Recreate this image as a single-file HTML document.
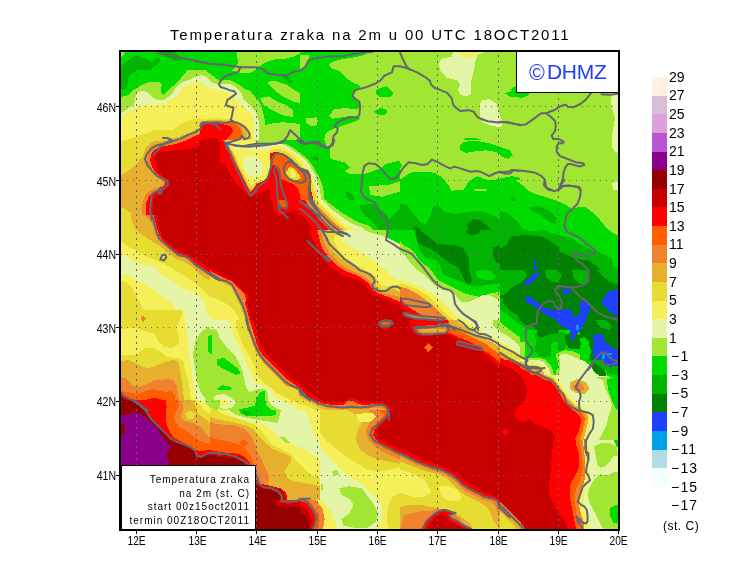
<!DOCTYPE html>
<html><head><meta charset="utf-8"><title>Temperatura zraka na 2m</title>
<style>
html,body{margin:0;padding:0;background:#fff;}
body{width:740px;height:582px;position:relative;overflow:hidden;font-family:"Liberation Sans",sans-serif;color:#000;}
.t{position:absolute;white-space:nowrap;line-height:1;}
svg{position:absolute;left:0;top:0;}
</style></head><body>

<svg width="740" height="582" viewBox="0 0 740 582" shape-rendering="crispEdges">
<defs>
<clipPath id="c0"><rect x="120" y="50" width="125" height="120"/></clipPath>
<clipPath id="c1"><rect x="120" y="120" width="100" height="100"/></clipPath>
<clipPath id="c2"><rect x="200" y="50" width="100" height="100"/></clipPath>
<clipPath id="c3"><rect x="300" y="50" width="100" height="100"/></clipPath>
<clipPath id="c4"><rect x="400" y="50" width="120" height="100"/></clipPath>
<clipPath id="c5"><rect x="500" y="90" width="120" height="100"/></clipPath>
<clipPath id="c6"><rect x="220" y="140" width="100" height="100"/></clipPath>
<clipPath id="c7"><rect x="300" y="140" width="100" height="100"/></clipPath>
<clipPath id="c8"><rect x="400" y="140" width="120" height="100"/></clipPath>
<clipPath id="c9"><rect x="500" y="180" width="120" height="100"/></clipPath>
<clipPath id="c10"><rect x="120" y="215" width="100" height="100"/></clipPath>
<clipPath id="c11"><rect x="210" y="230" width="100" height="100"/></clipPath>
<clipPath id="c12"><rect x="300" y="230" width="100" height="100"/></clipPath>
<clipPath id="c13"><rect x="400" y="230" width="100" height="100"/></clipPath>
<clipPath id="c14"><rect x="500" y="270" width="120" height="100"/></clipPath>
<clipPath id="c15"><rect x="120" y="310" width="100" height="100"/></clipPath>
<clipPath id="c16"><rect x="210" y="320" width="100" height="100"/></clipPath>
<clipPath id="c17"><rect x="300" y="320" width="100" height="100"/></clipPath>
<clipPath id="c18"><rect x="400" y="320" width="100" height="100"/></clipPath>
<clipPath id="c19"><rect x="500" y="360" width="120" height="100"/></clipPath>
<clipPath id="c20"><rect x="120" y="400" width="100" height="70"/></clipPath>
<clipPath id="c21"><rect x="210" y="410" width="100" height="120"/></clipPath>
<clipPath id="c22"><rect x="300" y="410" width="110" height="120"/></clipPath>
<clipPath id="c23"><rect x="400" y="410" width="110" height="120"/></clipPath>
<clipPath id="c24"><rect x="500" y="440" width="120" height="90"/></clipPath>
<clipPath id="c25"><rect x="120" y="70" width="80" height="60"/></clipPath>
<clipPath id="c26"><rect x="270" y="140" width="60" height="60"/></clipPath>
<clipPath id="c27"><rect x="210" y="410" width="110" height="90"/></clipPath>
<clipPath id="c28"><rect x="520" y="330" width="60" height="45"/></clipPath>
<clipPath id="map"><rect x="121" y="52" width="497" height="477"/></clipPath>
</defs>
<g clip-path="url(#map)">
<rect x="121" y="52" width="497" height="477" fill="#a0e632"/>
<g clip-path="url(#c0)"><g transform="translate(120,50) scale(0.20627,0.20619)">
<rect x="-5" y="-5" width="616" height="592" fill="#f5f05a"/>
<polygon points="0,0 606,0 606,200 560,195 520,185 490,175 460,160 430,145 400,135 370,145 340,155 310,172 280,192 245,220 210,240 175,222 140,205 110,200 78,218 72,265 20,305 0,325" fill="#e5f5a8"/>
<polygon points="0,0 606,0 606,170 570,170 530,165 500,160 480,155 460,140 440,125 410,118 380,125 340,135 300,150 270,170 240,195 215,230 200,230 185,210 160,195 130,190 100,192 70,205 60,240 40,270 10,300 0,305" fill="#a0e632"/>
<polygon points="0,0 606,0 606,40 575,55 545,90 530,105 500,140 480,148 460,130 440,110 410,100 380,103 340,112 300,128 270,150 240,185 215,212 205,212 200,175 192,155 165,148 125,160 85,180 60,205 30,225 0,232" fill="#00dc00"/>
<polygon points="0,0 35,0 0,45" fill="#a0e632"/>
<polygon points="0,95 10,75 30,55 55,40 80,25 105,35 130,45 150,60 165,45 185,35 200,50 185,65 160,85 150,100 110,95 70,105 45,125 40,185 20,195 0,190" fill="#00b400"/>
<polygon points="190,10 260,10 290,30 300,50 270,55 240,40 210,30" fill="#00b400"/>
<polygon points="0,430 40,418 100,400 150,385 200,373 260,358 310,343 345,335 385,328 420,330 460,325 500,330 540,340 606,345 606,582 0,582" fill="#e6dc32"/>
<polygon points="0,582 0,560 60,520 110,470 140,445 170,440 200,425 240,410 290,392 340,382 380,370 420,345 460,335 500,340 530,360 560,380 606,380 606,582" fill="#e6af2d"/>
<polygon points="120,582 130,520 145,455 185,441 245,421 345,396 390,371 435,361 485,366 525,361 565,381 585,421 606,430 606,582" fill="#f0822d"/>
<polygon points="150,582 140,540 150,505 165,491 205,476 245,456 295,431 345,411 395,386 435,376 475,386 505,401 525,420 530,460 535,500 540,540 550,582" fill="#ff0000"/>
<polygon points="165,582 160,550 175,521 195,491 245,481 295,461 345,446 395,431 435,421 465,431 485,461 495,511 505,551 515,582" fill="#c80000"/>
<polygon points="525,440 530,491 545,541 560,582 606,582 606,440 580,445 555,455" fill="#f5f05a"/>
</g></g>
<g clip-path="url(#c1)"><g transform="translate(120,120) scale(0.17182,0.17182)">
<rect x="-5" y="-5" width="592" height="592" fill="#e6dc32"/>
<polygon points="0,0 420,0 350,15 300,30 250,45 200,60 150,80 100,95 40,115 0,125" fill="#f5f05a"/>
<polygon points="582,20 480,30 440,60 400,75 350,95 300,110 250,120 200,125 170,140 150,160 140,190 130,215 110,240 80,270 40,300 0,325 0,500 30,520 60,540 100,582 582,582" fill="#e6af2d"/>
<polygon points="582,30 520,30 490,50 440,80 400,95 350,120 300,130 250,140 210,150 175,175 160,210 160,250 180,290 200,320 230,345 250,365 240,385 200,400 160,420 140,450 130,490 125,530 130,582 582,582" fill="#f0822d"/>
<polygon points="582,40 540,45 500,65 470,80 420,100 370,125 320,140 270,150 230,160 200,175 180,200 175,240 190,280 210,310 240,335 265,355 260,380 230,400 200,420 170,440 150,490 150,530 160,582 582,582" fill="#ff0000"/>
<polygon points="582,100 540,105 500,130 460,150 400,170 340,175 290,180 240,185 210,195 200,220 210,260 220,300 250,330 280,345 285,370 270,400 240,420 210,440 195,470 190,510 190,582 582,582" fill="#c80000"/>
</g></g>
<g clip-path="url(#c2)"><g transform="translate(200,50) scale(0.17182,0.17182)">
<rect x="-5" y="-5" width="592" height="592" fill="#00dc00"/>
<polygon points="216,10 582,10 582,20 540,40 500,50 440,55 400,65 360,85 340,100 310,125 291,134 240,134 216,127 184,123 208,95 224,74 216,40" fill="#a0e632"/>
<polygon points="0,114 32,118 60,139 92,163 116,182 120,178 172,174 208,190 240,210 260,226 291,238 320,270 345,300 360,330 375,400 380,440 400,430 480,420 582,430 582,582 0,582" fill="#a0e632"/>
<polygon points="390,185 440,180 500,200 560,240 582,250 582,310 540,300 480,270 440,240 410,210" fill="#a0e632"/>
<polygon points="350,280 400,270 450,300 500,320 540,350 540,390 480,380 420,350 370,320" fill="#a0e632"/>
<polygon points="480,150 510,150 540,180 530,195 500,180" fill="#00b400"/>
<polygon points="0,146 32,150 56,178 80,194 108,198 120,201 175,198 212,218 240,250 255,290 290,320 320,350 340,400 345,470 340,540 335,582 0,582" fill="#e5f5a8"/>
<polygon points="0,186 32,210 60,226 112,234 160,246 192,266 208,291 235,310 265,335 295,365 310,400 315,470 310,540 305,582 0,582" fill="#f5f05a"/>
<polygon points="0,405 60,398 120,398 180,402 230,418 270,440 295,480 305,520 290,560 280,582 0,582" fill="#e6dc32"/>
<polygon points="0,418 50,408 110,408 170,412 210,422 245,440 270,475 275,510 255,530 230,560 200,582 0,582" fill="#e6af2d"/>
<polygon points="0,420 40,412 100,412 150,425 180,410 220,430 245,460 250,490 240,515 220,525 190,540 160,550 150,582 0,582" fill="#f0822d"/>
<polygon points="0,425 40,416 100,418 150,430 185,418 220,440 240,470 240,505 215,525 180,545 150,582 0,582" fill="#ff5f00"/>
<polygon points="0,430 47,420 98,425 149,435 179,445 192,474 175,500 159,514 149,565 145,582 0,582" fill="#ff0000"/>
<polygon points="0,530 16,523 60,512 98,513 115,540 120,582 0,582" fill="#c80000"/>
</g></g>
<g clip-path="url(#c3)"><g transform="translate(300,50) scale(0.17182,0.17182)">
<rect x="-5" y="-5" width="592" height="592" fill="#a0e632"/>
<polygon points="0,10 385,10 385,25 350,35 300,45 240,55 200,65 168,82 180,105 235,125 265,160 300,185 345,205 355,225 325,240 310,262 322,290 350,312 350,330 330,345 260,338 200,345 170,380 190,400 260,390 300,382 340,382 350,400 310,420 250,440 210,452 170,470 145,495 140,530 152,560 175,575 205,570 230,560 240,582 0,582" fill="#00dc00"/>
<polygon points="0,30 50,30 55,60 40,90 0,120" fill="#a0e632"/>
<polygon points="35,398 100,392 105,432 70,445 38,425" fill="#a0e632"/>
<polygon points="440,232 500,210 545,250 530,272 460,272 440,252" fill="#00dc00"/>
<polygon points="430,360 470,335 510,350 500,375 460,380" fill="#00dc00"/>
</g></g>
<g clip-path="url(#c4)"><g transform="translate(400,50) scale(0.17192,0.17182)">
<rect x="-5" y="-5" width="708" height="592" fill="#a0e632"/>
<polygon points="310,10 500,10 450,30 440,60 430,120 415,180 410,260 380,270 350,260 335,230 350,200 330,175 270,160 235,120 225,80 240,50 300,40" fill="#e5f5a8"/>
<polygon points="330,10 460,10 440,38 380,45 340,30" fill="#f5f05a"/>
<polygon points="470,295 520,285 560,310 575,360 590,400 610,435 580,450 530,440 480,420 465,390 465,340" fill="#e5f5a8"/>
<polygon points="345,582 355,540 380,515 420,510 470,520 520,540 580,560 620,582" fill="#00dc00"/>
<polygon points="610,260 640,230 680,205 698,200 698,270 650,268" fill="#00dc00"/>
</g></g>
<g clip-path="url(#c5)"><g transform="translate(500,90) scale(0.17192,0.17182)">
<rect x="-5" y="-5" width="708" height="592" fill="#a0e632"/>
<polygon points="30,20 80,0 160,0 170,30 130,45 60,40" fill="#00dc00"/>
<polygon points="0,330 40,335 70,370 60,400 20,410 0,405" fill="#00dc00"/>
<polygon points="0,540 60,505 100,515 120,560 140,582 0,582" fill="#00dc00"/>
<polygon points="700,30 650,30 645,70 655,120 670,160 660,220 650,280 650,330 670,360 700,370" fill="#e5f5a8"/>
<polygon points="700,530 660,540 650,582 700,582" fill="#e5f5a8"/>
<polygon points="0,150 20,190 0,220" fill="#e5f5a8"/>
</g></g>
<g clip-path="url(#c6)"><g transform="translate(220,140) scale(0.17182,0.17182)">
<rect x="-5" y="-5" width="592" height="592" fill="#ff0000"/>
<polygon points="0,130 30,140 60,200 100,260 140,300 175,335 215,315 260,295 290,290 300,340 310,400 330,440 360,440 400,420 430,400 450,420 470,460 500,500 530,540 545,582 0,582" fill="#c80000"/>
<polygon points="15,0 582,0 582,180 540,160 500,140 450,105 400,75 350,55 320,60 300,90 290,130 280,175 265,215 245,240 215,255 195,285 178,305 160,275 140,235 120,195 95,145 70,90 45,40" fill="#f0822d"/>
<polygon points="320,165 340,165 350,220 360,290 380,345 392,385 370,395 345,370 335,320 328,250 318,200" fill="#ff5f00"/>
<polygon points="582,200 540,200 520,240 510,280 490,300 470,320 480,350 520,380 560,410 582,420" fill="#f0822d"/>
<polygon points="380,130 420,120 460,150 490,190 500,240 460,250 420,235 390,210 370,170" fill="#ff5f00"/>
<polygon points="25,0 375,0 350,60 325,75 305,110 295,150 285,190 270,225 250,240 220,250 200,270 185,295 165,270 145,230 125,190 100,140 80,90 55,45" fill="#e6dc32"/>
<polygon points="400,140 440,150 470,180 480,220 460,235 430,225 400,200 390,170" fill="#e6dc32"/>
<polygon points="582,230 560,220 540,250 530,290 520,320 540,350 570,380 582,390" fill="#e6dc32"/>
<polygon points="40,0 365,0 330,70 310,105 300,145 290,180 275,210 255,230 225,240 200,250 180,265 160,240 140,200 120,160 100,115 80,70 60,40" fill="#f5f05a"/>
<polygon points="410,155 440,165 460,200 445,215 420,205 405,180" fill="#f5f05a"/>
<polygon points="582,250 565,250 555,280 550,320 560,350 582,365" fill="#f5f05a"/>
<polygon points="140,100 200,95 240,120 250,160 240,200 210,215 170,210 145,180 135,140" fill="#e5f5a8"/>
<polygon points="60,30 370,20 340,55 250,60 150,55 80,50" fill="#e5f5a8"/>
<polygon points="582,150 550,170 545,210 555,240 560,280 570,320 582,340" fill="#e5f5a8"/>
<polygon points="200,0 380,0 360,30 300,25 220,20" fill="#a0e632"/>
<polygon points="582,110 540,110 520,140 535,160 560,160 582,180" fill="#a0e632"/>
<polygon points="380,0 582,0 582,110 540,90 500,70 450,50 420,30 400,15" fill="#00dc00"/>
</g></g>
<g clip-path="url(#c7)"><g transform="translate(300,140) scale(0.17182,0.17182)">
<rect x="-5" y="-5" width="592" height="592" fill="#00dc00"/>
<polygon points="140,0 582,0 582,120 500,140 470,165 440,175 400,190 370,200 340,195 300,200 260,185 290,160 260,130 180,110 150,60" fill="#a0e632"/>
<polygon points="400,270 520,260 582,240 582,300 480,330 410,320" fill="#a0e632"/>
<polygon points="270,300 300,310 320,350 290,350 270,330" fill="#00b400"/>
<polygon points="350,380 420,370 460,400 500,430 520,460 560,420 582,400 582,582 510,582 460,520 420,470 380,440 350,400" fill="#00b400"/>
<polygon points="60,100 100,95 110,120 70,120" fill="#00b400"/>
<polygon points="0,0 0,60 70,75 110,120 135,190 140,260 135,320 160,360 200,390 240,420 290,450 340,480 400,500 440,530 470,560 480,582 0,582" fill="#a0e632"/>
<polygon points="0,0 0,70 60,85 100,130 120,190 125,260 120,320 140,360 180,400 220,430 260,460 310,490 360,510 400,540 430,582 0,582" fill="#e5f5a8"/>
<polygon points="0,0 0,80 50,95 90,140 110,200 110,260 105,320 120,360 160,400 200,440 240,475 280,500 330,520 360,550 380,582 0,582" fill="#f5f05a"/>
<polygon points="0,0 0,90 40,100 75,140 95,200 95,260 90,320 105,360 140,400 180,440 220,480 260,510 300,540 330,582 0,582" fill="#e6dc32"/>
<polygon points="0,0 0,100 30,110 60,150 80,200 80,260 75,320 90,370 130,410 170,450 210,490 250,520 270,550 280,582 0,582" fill="#f0822d"/>
<polygon points="0,260 20,300 30,350 60,400 100,450 140,490 180,530 210,560 230,582 0,582" fill="#ff0000"/>
<polygon points="0,430 40,470 80,520 110,560 120,582 0,582" fill="#c80000"/>
<polygon points="0,0 140,0 150,60 110,80 70,60 0,50" fill="#00dc00"/>
</g></g>
<g clip-path="url(#c8)"><g transform="translate(400,140) scale(0.17192,0.17182)">
<rect x="-5" y="-5" width="708" height="592" fill="#00dc00"/>
<polygon points="0,0 698,0 698,220 650,210 600,220 560,230 500,230 450,210 400,240 370,290 300,295 280,260 250,220 200,190 120,185 60,190 30,210 0,230" fill="#a0e632"/>
<polygon points="345,40 370,10 450,5 520,20 580,40 640,60 655,90 630,110 600,100 560,70 500,60 440,65 380,75 350,60" fill="#00dc00"/>
<polygon points="0,130 10,150 0,170" fill="#00dc00"/>
<polygon points="430,285 510,285 500,295 440,295" fill="#a0e632"/>
<polygon points="0,370 40,380 80,430 120,480 150,490 180,430 190,390 220,380 260,420 320,430 400,420 460,410 520,430 560,450 600,470 650,470 698,460 698,582 0,582" fill="#00b400"/>
<polygon points="640,340 680,325 698,340 698,360 660,360" fill="#00b400"/>
<polygon points="390,490 430,460 470,470 510,500 540,530 500,540 450,545 400,540" fill="#008200"/>
<polygon points="80,500 120,520 160,560 170,582 90,582 75,540" fill="#008200"/>
</g></g>
<g clip-path="url(#c9)"><g transform="translate(500,180) scale(0.17192,0.17182)">
<rect x="-5" y="-5" width="708" height="592" fill="#00dc00"/>
<polygon points="90,0 698,0 698,330 660,310 620,280 580,230 540,190 500,160 460,155 420,170 390,150 350,130 300,110 250,95 200,80 160,60 130,30" fill="#a0e632"/>
<polygon points="650,20 690,10 690,60 660,60" fill="#e5f5a8"/>
<polygon points="0,180 40,190 70,210 100,240 130,280 180,300 260,290 300,310 340,320 380,330 420,340 460,370 500,390 540,410 580,420 620,440 650,460 660,500 690,520 698,582 0,582" fill="#00b400"/>
<polygon points="160,160 220,150 290,180 330,220 320,260 280,240 230,200 180,180" fill="#00b400"/>
<polygon points="60,100 80,95 100,120 70,125" fill="#00b400"/>
<polygon points="60,330 150,320 250,330 300,360 340,390 350,420 400,440 450,460 520,470 560,500 600,540 620,582 0,582 0,400 40,380" fill="#008200"/>
<polygon points="195,465 210,465 205,500 230,530 200,560 175,582 160,582 195,540 200,500" fill="#2040ff"/>
</g></g>
<g clip-path="url(#c10)"><g transform="translate(120,215) scale(0.17182,0.17182)">
<rect x="-5" y="-5" width="592" height="592" fill="#e6dc32"/>
<polygon points="60,0 180,0 200,50 230,120 260,160 300,200 340,230 390,240 430,270 480,310 530,350 582,380 582,400 540,390 500,370 460,340 420,300 370,270 320,250 280,220 230,180 180,150 120,110 90,80 70,40" fill="#e6af2d"/>
<polygon points="0,150 40,180 80,200 150,240 200,260 250,280 300,310 350,340 400,370 450,410 500,450 540,490 582,520 582,582 0,582" fill="#f5f05a"/>
<polygon points="0,380 40,390 70,420 100,480 130,540 150,582 0,582" fill="#e6dc32"/>
<polygon points="0,230 40,240 80,270 140,290 200,300 230,340 280,370 320,390 350,420 400,440 440,460 480,490 500,520 490,550 470,582 340,582 320,540 290,500 240,470 200,440 160,410 120,390 80,370 40,350 0,345" fill="#e5f5a8"/>
<polygon points="140,0 582,0 582,390 550,375 520,355 490,335 460,315 430,295 400,265 370,248 340,240 310,220 280,195 250,170 225,145 210,115 195,70 175,30" fill="#f0822d"/>
<polygon points="195,0 582,0 582,370 550,350 520,335 490,315 460,295 430,275 400,250 370,235 340,225 310,205 280,180 250,150 230,120 215,80 205,40" fill="#ff0000"/>
<polygon points="215,0 582,0 582,345 550,330 520,310 490,290 460,270 430,250 400,235 370,220 340,210 310,185 280,160 255,135 240,110 225,70 215,30" fill="#c80000"/>
</g></g>
<g clip-path="url(#c11)"><g transform="translate(210,230) scale(0.17182,0.17182)">
<rect x="-5" y="-5" width="592" height="592" fill="#c80000"/>
<polygon points="0,225 20,235 60,260 110,280 150,310 190,350 230,380 215,420 230,480 240,530 245,582 0,582" fill="#ff0000"/>
<polygon points="0,240 40,260 80,280 120,295 160,330 200,370 210,400 205,430 220,480 230,530 235,582 0,582" fill="#f0822d"/>
<polygon points="0,260 30,280 70,300 110,310 140,340 160,380 180,420 195,460 205,500 215,540 220,582 0,582" fill="#e6af2d"/>
<polygon points="0,275 40,295 80,310 120,330 140,370 160,410 180,450 195,490 205,530 210,582 0,582" fill="#e6dc32"/>
<polygon points="0,390 40,400 80,420 110,440 140,470 160,500 180,540 190,582 0,582" fill="#f5f05a"/>
<polygon points="0,520 40,530 70,560 80,582 0,582" fill="#e5f5a8"/>
</g></g>
<g clip-path="url(#c12)"><g transform="translate(300,230) scale(0.17182,0.17182)">
<rect x="-5" y="-5" width="592" height="592" fill="#c80000"/>
<polygon points="50,0 582,0 582,440 540,420 500,400 460,390 420,370 380,320 340,290 300,280 260,270 230,250 200,230 170,210 130,170 100,110 80,60 60,30" fill="#ff0000"/>
<polygon points="100,0 582,0 582,420 540,400 500,385 460,370 430,350 400,310 360,280 320,260 280,245 250,230 220,210 190,180 160,150 130,110 115,60" fill="#f0822d"/>
<polygon points="120,0 582,0 582,390 540,380 500,370 460,360 435,340 420,310 390,280 350,260 310,240 270,220 230,195 200,165 170,130 145,80 130,40" fill="#e6af2d"/>
<polygon points="140,0 582,0 582,360 540,340 500,350 460,345 440,320 440,290 420,270 380,250 340,225 300,200 260,180 230,160 200,130 175,90 155,50" fill="#e6dc32"/>
<polygon points="200,30 280,20 330,40 380,60 430,80 480,100 530,120 582,130 582,320 540,320 500,330 470,320 455,300 440,270 410,250 370,230 330,210 290,180 250,150 220,110 200,70" fill="#f5f05a"/>
<polygon points="260,0 380,0 420,20 470,30 520,50 582,60 582,290 560,290 530,270 510,240 480,220 460,200 440,180 400,160 360,130 320,110 280,90 240,60" fill="#e5f5a8"/>
<polygon points="380,0 500,0 500,40 470,30 420,20" fill="#a0e632"/>
<polygon points="500,0 582,0 582,80 540,60 500,40" fill="#00dc00"/>
<polygon points="470,535 530,530 540,545 510,560 470,555" fill="#f0822d"/>
</g></g>
<g clip-path="url(#c13)"><g transform="translate(400,230) scale(0.17182,0.17182)">
<rect x="-5" y="-5" width="592" height="592" fill="#00b400"/>
<polygon points="0,0 80,0 100,60 110,110 150,160 200,170 230,200 250,260 300,280 350,300 400,320 450,330 500,320 582,310 582,582 0,582" fill="#00dc00"/>
<polygon points="90,0 110,0 140,20 180,50 220,80 270,85 320,90 360,100 390,140 400,180 400,220 410,260 420,300 400,320 380,300 360,260 340,220 300,200 260,170 220,140 180,110 130,90 100,70" fill="#008200"/>
<polygon points="380,0 470,0 460,20 420,30 390,20" fill="#008200"/>
<polygon points="540,100 582,90 582,200 560,190 540,150" fill="#008200"/>
<polygon points="440,240 480,230 530,240 560,270 540,290 490,290 450,280" fill="#00dc00"/>
<polygon points="0,60 20,90 60,110 90,140 110,170 140,200 170,220 200,260 220,290 260,310 300,330 340,350 380,370 420,380 470,390 520,370 582,360 582,582 0,582" fill="#a0e632"/>
<polygon points="0,130 30,150 60,190 100,230 140,260 170,290 200,320 240,340 280,350 310,360 330,390 360,420 400,420 440,400 480,380 520,380 560,400 582,410 582,582 0,582" fill="#e5f5a8"/>
<polygon points="0,290 40,300 80,320 120,330 160,350 200,380 230,400 260,430 290,460 320,490 350,510 380,530 400,560 410,582 0,582" fill="#f5f05a"/>
<polygon points="0,310 40,320 80,340 120,355 160,380 190,410 220,440 250,470 280,500 310,520 340,540 360,560 370,582 0,582" fill="#e6dc32"/>
<polygon points="0,330 40,340 100,370 140,400 180,430 210,460 240,490 270,510 300,540 330,560 340,582 0,582" fill="#f0822d"/>
<polygon points="0,390 20,400 30,430 50,450 100,480 140,500 200,520 240,540 270,560 280,582 0,582" fill="#ff0000"/>
<polygon points="0,450 30,470 60,500 100,520 130,540 150,560 160,582 0,582" fill="#c80000"/>
<polygon points="10,400 40,400 80,410 130,420 170,430 180,445 150,450 100,445 50,440 20,430 10,410" fill="#f0822d"/>
<polygon points="20,480 60,490 120,500 180,505 240,510 260,515 250,525 200,525 140,520 80,515 30,500 20,490" fill="#f0822d"/>
</g></g>
<g clip-path="url(#c14)"><g transform="translate(500,270) scale(0.17192,0.17182)">
<rect x="-5" y="-5" width="708" height="592" fill="#008200"/>
<polygon points="0,0 140,0 160,30 130,70 90,90 60,110 30,140 0,150" fill="#00b400"/>
<polygon points="260,0 330,0 360,30 340,70 300,70 270,40" fill="#00b400"/>
<polygon points="420,0 500,0 520,40 500,80 460,80 430,50" fill="#00b400"/>
<polygon points="560,0 698,0 698,90 640,70 600,40" fill="#00b400"/>
<polygon points="0,160 20,170 20,200 60,240 100,260 120,300 150,320 200,330 210,360 190,400 180,440 150,470 100,460 60,420 20,400 0,380" fill="#00b400"/>
<polygon points="560,290 610,290 650,320 640,350 600,340 570,320" fill="#00b400"/>
<polygon points="0,230 30,250 80,290 120,320 150,340 200,360 230,380 260,400 300,420 330,440 350,460 380,470 420,460 460,440 490,420 520,440 530,470 520,520 500,560 480,582 0,582" fill="#00dc00"/>
<polygon points="460,400 490,390 520,420 510,450 480,450" fill="#00dc00"/>
<polygon points="0,300 20,320 60,350 100,380 140,410 160,440 190,470 220,480 270,475 310,470 350,470 380,480 420,500 460,530 480,560 490,582 0,582" fill="#a0e632"/>
<polygon points="0,360 40,380 80,410 120,450 150,480 200,490 260,490 320,480 360,470 400,480 440,500 470,530 490,560 500,582 0,582" fill="#e5f5a8"/>
<polygon points="0,420 40,440 90,470 130,500 170,530 210,550 250,560 300,570 330,582 0,582" fill="#f5f05a"/>
<polygon points="0,450 40,470 80,490 120,510 150,535 180,560 220,575 240,582 0,582" fill="#e6dc32"/>
<polygon points="0,480 40,500 80,520 120,540 150,560 170,582 0,582" fill="#f0822d"/>
<polygon points="0,510 40,530 80,550 110,570 120,582 0,582" fill="#ff0000"/>
<polygon points="0,550 30,565 50,582 0,582" fill="#c80000"/>
<polygon points="130,80 170,50 200,20 230,10 220,40 190,70 160,90 140,90" fill="#2040ff"/>
<polygon points="150,150 180,160 220,190 260,220 300,230 330,230 370,230 400,225 420,240 430,280 460,260 470,230 460,200 470,180 500,180 530,200 520,240 500,290 480,330 460,360 440,390 430,420 415,415 420,380 400,350 370,330 340,310 320,290 290,270 260,260 240,240 210,220 180,200 150,185" fill="#2040ff"/>
<polygon points="360,110 400,110 420,120 400,140 370,145" fill="#2040ff"/>
<polygon points="640,120 698,115 698,280 660,260 620,230 590,200 600,160 620,140" fill="#2040ff"/>
<polygon points="540,380 580,370 600,380 610,420 640,440 670,460 698,470 698,560 650,560 610,540 580,540 550,520 540,480 545,430" fill="#2040ff"/>
<polygon points="440,320 455,315 460,350 450,360 440,350" fill="#00a0e6"/>
<polygon points="595,490 610,490 605,550 595,550" fill="#00a0e6"/>
<polygon points="620,485 650,485 650,495 620,495" fill="#00a0e6"/>
</g></g>
<g clip-path="url(#c15)"><g transform="translate(120,310) scale(0.17182,0.17182)">
<rect x="-5" y="-5" width="592" height="592" fill="#e6dc32"/>
<polygon points="0,110 90,105 200,140 225,185 260,215 300,222 340,200 345,150 325,100 345,70 360,30 360,0 582,0 582,582 420,582 410,500 400,420 380,360 370,300 340,280 310,280 270,270 230,240 190,220 150,220 120,240 100,260 0,260" fill="#f5f05a"/>
<polygon points="370,0 582,0 582,582 450,582 440,500 430,430 420,360 410,300 400,240 395,180 390,120 380,60" fill="#e5f5a8"/>
<polygon points="500,0 582,0 582,60 540,60" fill="#f5f05a"/>
<polygon points="440,180 470,130 510,100 550,100 582,110 582,582 540,582 500,520 470,480 450,420 440,360 430,300 425,250" fill="#a0e632"/>
<polygon points="510,150 530,150 530,260 510,240" fill="#00dc00"/>
<polygon points="560,270 582,260 582,330 560,310" fill="#00dc00"/>
<polygon points="0,300 50,290 90,310 130,330 170,340 220,320 270,300 310,290 340,300 350,350 360,420 370,500 380,582 0,582" fill="#e6af2d"/>
<polygon points="0,390 40,400 70,440 110,450 160,430 200,410 240,410 280,400 310,410 330,440 340,500 350,582 0,582" fill="#f0822d"/>
<polygon points="0,470 50,480 100,490 150,470 190,460 230,470 270,480 300,470 320,500 330,582 0,582" fill="#ff5f00"/>
<polygon points="0,480 40,510 80,520 120,530 160,520 200,510 240,520 270,540 280,582 0,582" fill="#ff0000"/>
<polygon points="0,490 30,510 60,530 100,550 140,570 150,582 0,582" fill="#c80000"/>
<polygon points="0,500 20,520 50,545 80,565 100,582 0,582" fill="#960000"/>
<polygon points="120,50 135,30 150,50 135,70" fill="#f0822d"/>
</g></g>
<g clip-path="url(#c16)"><g transform="translate(210,320) scale(0.17182,0.17182)">
<rect x="-5" y="-5" width="592" height="592" fill="#e6dc32"/>
<polygon points="220,0 582,0 582,480 550,460 520,440 510,410 480,395 440,380 410,350 380,320 350,290 320,260 290,220 265,180 245,130 230,80" fill="#f0822d"/>
<polygon points="230,0 582,0 582,440 550,420 530,400 500,380 470,360 440,340 410,310 380,280 350,250 320,220 290,180 270,130 255,80 240,30" fill="#ff0000"/>
<polygon points="250,0 582,0 582,410 550,390 520,370 490,350 460,330 430,300 400,270 370,240 340,210 310,170 290,130 275,80 260,30" fill="#c80000"/>
<polygon points="0,0 150,0 160,60 180,120 200,160 230,210 250,250 270,300 290,340 320,370 350,390 380,420 420,440 460,460 500,480 540,500 582,510 582,582 0,582" fill="#f5f05a"/>
<polygon points="0,0 110,0 120,50 140,100 170,150 190,200 210,250 230,300 250,340 270,370 300,380 340,390 360,420 380,450 420,470 460,490 500,510 540,540 582,550 582,582 0,582" fill="#e5f5a8"/>
<polygon points="0,60 20,50 40,60 60,110 90,150 120,180 150,210 170,250 190,300 200,350 210,390 230,420 260,410 290,400 320,400 340,430 340,470 360,500 400,520 440,540 470,560 500,582 0,582" fill="#a0e632"/>
<polygon points="30,440 80,430 120,450 150,480 130,510 80,520 40,500 20,470" fill="#e5f5a8"/>
<polygon points="60,465 100,470 110,490 80,500 55,485" fill="#f5f05a"/>
<polygon points="0,540 40,545 60,582 0,582" fill="#e5f5a8"/>
<polygon points="40,230 80,220 120,250 160,280 180,310 150,320 110,300 70,280 40,260" fill="#00dc00"/>
<polygon points="40,400 70,380 110,385 130,400 110,410 60,410" fill="#00dc00"/>
<polygon points="170,520 220,510 260,500 270,460 290,420 320,410 320,460 330,500 370,530 380,550 340,555 300,550 260,560 210,560 175,545" fill="#00dc00"/>
<polygon points="0,90 10,90 10,200 0,200" fill="#00dc00"/>
<polygon points="190,530 230,530 240,550 200,555" fill="#00b400"/>
</g></g>
<g clip-path="url(#c17)"><g transform="translate(300,320) scale(0.17182,0.17182)">
<rect x="-5" y="-5" width="592" height="592" fill="#c80000"/>
<polygon points="0,370 20,390 50,420 80,440 110,460 150,475 200,480 250,480 290,455 320,455 350,480 400,480 450,475 490,480 520,500 540,530 545,582 0,582" fill="#ff0000"/>
<polygon points="0,400 30,430 60,455 100,475 150,490 200,495 250,495 280,470 310,470 340,490 380,495 430,490 480,490 505,505 525,530 530,582 0,582" fill="#f0822d"/>
<polygon points="0,430 30,450 60,470 100,490 150,505 200,515 250,520 300,515 350,520 400,515 440,510 480,510 500,525 505,582 0,582" fill="#e6af2d"/>
<polygon points="0,450 40,470 80,490 110,510 150,525 200,535 250,540 300,535 350,540 400,530 440,525 480,525 495,545 490,582 0,582" fill="#e6dc32"/>
<polygon points="0,490 40,500 80,520 110,540 150,560 200,570 250,575 300,560 350,560 400,545 440,545 470,555 480,582 0,582" fill="#f5f05a"/>
<polygon points="470,10 520,10 530,22 510,35 475,32" fill="#ff5f00"/>
<polygon points="465,38 500,45 520,40 510,55 480,55" fill="#ff0000"/>
</g></g>
<g clip-path="url(#c18)"><g transform="translate(400,320) scale(0.17182,0.17182)">
<rect x="-5" y="-5" width="592" height="592" fill="#c80000"/>
<polygon points="55,0 582,0 582,280 560,260 520,220 480,190 440,160 390,140 340,120 290,90 240,80 190,90 140,95 90,80 65,55" fill="#ff0000"/>
<polygon points="100,0 582,0 582,250 550,220 510,190 470,170 430,140 390,120 340,100 290,75 240,65 190,75 140,80 100,65 85,45 100,35 200,30 250,20 300,10 330,0" fill="#ff5f00"/>
<polygon points="280,0 582,0 582,200 540,170 500,140 460,120 420,100 380,80 340,60 300,40" fill="#e6af2d"/>
<polygon points="330,0 582,0 582,160 540,130 500,110 460,90 420,70 380,40 350,20" fill="#f5f05a"/>
<polygon points="380,0 582,0 582,130 540,100 500,80 470,60 440,40 410,20" fill="#e5f5a8"/>
<polygon points="540,0 582,0 582,60 560,50 540,30" fill="#a0e632"/>
<polygon points="90,45 140,45 200,40 260,35 280,60 250,80 200,80 150,85 100,70" fill="#f0822d"/>
<polygon points="110,55 200,50 260,50 260,70 200,72 130,70" fill="#e6af2d"/>
<polygon points="140,160 165,133 192,160 165,190" fill="#ff5f00"/>
<polygon points="150,160 165,145 180,160 165,177" fill="#f0822d"/>
<polygon points="335,130 380,135 420,145 460,155 478,168 440,168 400,158 360,148" fill="#ff0000"/>
</g></g>
<g clip-path="url(#c19)"><g transform="translate(500,360) scale(0.17192,0.17182)">
<rect x="-5" y="-5" width="708" height="592" fill="#ff0000"/>
<polygon points="0,20 40,40 80,60 120,90 150,140 160,200 130,250 100,280 80,310 100,350 140,360 170,340 200,370 250,390 300,410 320,450 320,500 300,550 280,582 0,582" fill="#c80000"/>
<polygon points="20,420 40,400 60,420 40,440" fill="#ff0000"/>
<polygon points="50,0 95,25 130,40 155,57 188,78 232,100 265,117 298,128 325,160 350,200 375,245 415,285 455,315 475,345 465,385 455,425 435,465 435,505 445,545 455,582 698,582 698,0" fill="#ff5f00"/>
<polygon points="70,0 100,20 136,31 158,47 191,69 235,91 268,108 301,119 335,165 365,210 395,250 435,285 475,310 495,340 485,380 475,420 460,460 460,500 470,540 480,582 698,582 698,0" fill="#f0822d"/>
<polygon points="75,0 105,14 140,25 162,40 195,62 238,84 272,100 305,112 340,160 370,205 400,245 440,280 480,305 500,335 492,380 482,420 470,460 470,500 480,540 490,582 698,582 698,0" fill="#e6af2d"/>
<polygon points="80,0 110,8 145,18 168,32 200,55 243,76 277,92 310,104 345,150 375,195 405,235 445,270 490,295 515,325 510,370 500,410 490,450 490,490 500,530 505,582 698,582 698,0" fill="#f5f05a"/>
<polygon points="100,0 150,8 175,22 210,45 250,66 285,82 320,95 355,140 385,185 415,225 455,260 500,285 530,315 530,360 520,400 515,440 515,480 525,520 530,582 698,582 698,0" fill="#e5f5a8"/>
<polygon points="560,100 600,120 610,160 630,200 650,260 640,300 630,330 620,380 600,420 580,460 560,500 550,540 545,582 698,582 698,100" fill="#a0e632"/>
<polygon points="250,0 330,0 330,40 300,60 270,40" fill="#a0e632"/>
<polygon points="620,110 698,100 698,300 670,280 650,230 630,180" fill="#00dc00"/>
<polygon points="280,0 330,0 320,30 300,40" fill="#00dc00"/>
<polygon points="480,0 698,0 698,110 640,100 600,80 560,50 520,30" fill="#00dc00"/>
<polygon points="500,0 698,0 698,90 640,80 600,50 560,20" fill="#00b400"/>
<polygon points="530,20 560,20 600,50 620,90 580,95 540,60" fill="#008200"/>
<polygon points="600,0 698,0 698,30 640,40 610,30" fill="#2040ff"/>
<polygon points="670,320 698,310 698,380 680,370" fill="#a0e632"/>
<polygon points="410,130 450,110 500,130 520,170 490,200 440,190 410,170" fill="#e6af2d"/>
<polygon points="425,150 450,130 480,140 490,170 460,185 430,175" fill="#f0822d"/>
</g></g>
<g clip-path="url(#c20)"><g transform="translate(120,400) scale(0.13514,0.13514)">
<rect x="-5" y="-5" width="750" height="528" fill="#960000"/>
<polygon points="10,110 60,110 90,95 150,100 190,130 230,170 270,200 300,250 330,290 350,320 380,350 350,380 345,420 360,450 355,518 0,518 0,270 40,240 40,190 0,170" fill="#8b008b"/>
<polygon points="100,0 740,0 740,400 720,395 680,390 640,400 600,420 570,415 565,400 555,375 530,355 490,335 450,320 410,305 380,290 350,260 320,230 290,200 260,170 230,140 210,110 190,80 160,50 130,20" fill="#ff0000"/>
<polygon points="340,0 740,0 740,370 700,360 650,370 600,380 560,370 520,340 480,320 440,300 400,280 370,240 350,200 340,150 340,100 345,50" fill="#ff5f00"/>
<polygon points="430,0 740,0 740,340 700,330 650,320 600,310 560,280 520,250 480,220 440,200 410,160 400,130 420,80 440,40" fill="#f0822d"/>
<polygon points="450,0 740,0 740,300 700,290 660,270 630,240 610,210 580,190 540,170 500,160 470,150 450,130 460,90 470,50" fill="#e6af2d"/>
<polygon points="540,0 740,0 740,200 700,190 660,170 630,140 600,120 570,90 560,50" fill="#e6dc32"/>
<polygon points="480,100 520,80 560,100 540,140 500,140" fill="#e6dc32"/>
<polygon points="560,0 740,0 740,130 700,120 660,100 620,70 600,40 580,20" fill="#f5f05a"/>
<polygon points="580,0 740,0 740,80 700,70 660,50 630,20" fill="#e5f5a8"/>
<polygon points="630,0 740,0 740,60 710,80 670,60 640,30" fill="#a0e632"/>
</g></g>
<g clip-path="url(#c21)"><g transform="translate(210,410) scale(0.20619,0.20619)">
<rect x="-5" y="-5" width="495" height="592" fill="#e6af2d"/>
<polygon points="0,0 485,0 485,330 440,320 400,300 370,260 330,220 290,180 250,140 200,110 150,80 100,60 40,60 0,70" fill="#e6dc32"/>
<polygon points="120,0 485,0 485,300 450,290 420,270 400,240 370,200 340,170 300,140 260,110 230,90 200,70 150,50" fill="#f5f05a"/>
<polygon points="240,0 485,0 485,200 440,190 400,170 360,150 320,120 280,100 250,70" fill="#e5f5a8"/>
<polygon points="100,0 485,0 485,20 400,30 350,60 300,70 250,60 200,50 150,45 110,30" fill="#a0e632"/>
<polygon points="130,0 330,0 320,30 280,40 220,40 170,30 140,20" fill="#00dc00"/>
<polygon points="160,5 190,5 200,20 170,25" fill="#00b400"/>
<polygon points="340,130 360,130 380,150 360,160" fill="#a0e632"/>
<polygon points="0,60 40,60 100,60 150,80 200,110 250,140 290,180 330,220 370,260 400,300 440,320 485,330 485,582 0,582" fill="#f0822d"/>
<polygon points="0,150 60,160 120,180 160,200 200,230 230,270 260,310 300,340 340,360 380,380 420,400 485,410 485,582 0,582" fill="#ff5f00"/>
<polygon points="0,190 60,195 120,205 160,225 195,255 220,290 235,330 250,355 280,370 320,380 345,400 360,420 400,430 440,420 485,420 485,582 0,582" fill="#ff0000"/>
<polygon points="0,215 40,220 80,225 120,235 160,255 190,275 210,300 225,340 235,370 260,385 300,390 325,405 335,430 335,450 380,455 420,450 450,440 485,440 485,582 0,582" fill="#c80000"/>
<polygon points="0,230 40,235 80,240 120,250 160,270 185,290 200,320 215,350 225,380 260,400 300,410 320,430 320,460 360,470 420,470 485,460 485,582 0,582" fill="#960000"/>
<polygon points="150,150 170,140 190,160 170,175" fill="#ff5f00"/>
</g></g>
<g clip-path="url(#c22)"><g transform="translate(300,410) scale(0.20599,0.20619)">
<rect x="-5" y="-5" width="544" height="592" fill="#e6dc32"/>
<polygon points="0,40 60,40 90,100 130,150 180,190 230,230 280,260 330,290 380,300 430,290 480,280 534,260 534,400 490,400 450,420 430,460 420,520 430,582 100,582 110,540 100,500 80,450 60,420 40,400 0,390" fill="#f5f05a"/>
<polygon points="0,50 40,60 80,120 100,180 150,240 200,290 250,330 300,360 340,400 380,430 400,480 400,520 380,560 360,582 180,582 170,540 150,490 110,440 70,400 40,370 20,330 60,330 80,300 60,260 30,220 0,210" fill="#e5f5a8"/>
<polygon points="0,220 50,230 80,270 70,300 0,300" fill="#e6dc32"/>
<polygon points="190,380 240,370 300,380 330,420 360,460 380,500 370,540 330,570 260,570 210,560 200,530 240,500 260,460 240,430 200,410" fill="#a0e632"/>
<polygon points="150,300 180,290 190,310 170,320" fill="#a0e632"/>
<polygon points="100,360 110,360 110,390 100,390" fill="#a0e632"/>
<polygon points="230,0 534,0 534,260 480,260 430,250 380,240 330,220 290,190 270,140 280,100 300,60 280,30" fill="#e6af2d"/>
<polygon points="270,20 380,10 380,40 330,60 290,60" fill="#f5f05a"/>
<polygon points="330,0 534,0 534,250 490,240 440,220 400,200 360,175 330,140 320,100 340,60 370,30" fill="#f0822d"/>
<polygon points="380,0 534,0 534,240 490,225 450,205 410,185 370,160 345,125 350,90 380,55 410,25" fill="#ff5f00"/>
<polygon points="420,0 534,0 534,235 500,220 460,200 420,180 380,155 355,125 360,95 390,65 420,35" fill="#ff0000"/>
<polygon points="440,0 534,0 534,215 500,200 460,180 420,160 385,140 370,115 380,90 410,60 430,30" fill="#c80000"/>
<polygon points="0,420 40,420 80,440 110,480 120,530 110,582 0,582" fill="#f0822d"/>
<polygon points="0,425 30,430 60,460 90,500 95,540 85,582 0,582" fill="#ff5f00"/>
<polygon points="0,440 30,450 55,480 75,520 70,560 60,582 0,582" fill="#ff0000"/>
<polygon points="0,460 25,470 45,500 60,530 50,582 0,582" fill="#c80000"/>
<polygon points="0,500 30,510 45,540 40,582 0,582" fill="#960000"/>
</g></g>
<g clip-path="url(#c23)"><g transform="translate(400,410) scale(0.20599,0.20619)">
<rect x="-5" y="-5" width="544" height="592" fill="#c80000"/>
<polygon points="0,185 40,200 80,225 120,245 160,255 200,270 240,290 280,315 320,345 360,375 400,395 440,410 480,430 500,460 520,490 534,500 534,582 0,582" fill="#ff0000"/>
<polygon points="0,210 40,230 80,255 120,270 160,285 200,295 240,315 270,335 300,365 330,385 370,405 410,425 450,435 475,445 480,475 500,495 520,515 534,525 534,582 0,582" fill="#f0822d"/>
<polygon points="0,225 40,245 80,265 120,280 160,295 200,305 235,325 265,345 290,370 320,395 360,415 400,435 440,445 460,460 470,490 490,510 510,530 534,540 534,582 0,582" fill="#e6af2d"/>
<polygon points="0,250 40,265 80,280 120,295 160,305 200,315 230,335 255,360 280,385 310,410 350,430 390,450 420,470 440,500 450,530 470,560 490,582 0,582" fill="#e6dc32"/>
<polygon points="0,290 40,300 80,320 120,340 140,370 150,400 120,420 60,420 0,400" fill="#f5f05a"/>
<polygon points="190,370 240,370 280,390 300,420 290,440 240,440 200,420" fill="#f5f05a"/>
<polygon points="0,470 40,460 100,460 150,470 200,480 250,490 300,520 340,550 360,582 0,582" fill="#e6af2d"/>
<polygon points="20,510 60,500 110,490 150,490 170,482 200,482 230,495 260,500 280,520 300,540 320,560 330,582 0,582" fill="#f0822d"/>
<polygon points="100,582 130,530 160,505 190,485 220,480 250,490 260,500 240,515 260,530 300,550 340,570 360,582" fill="#ff0000"/>
<polygon points="130,582 150,545 175,520 200,505 220,510 230,530 260,550 300,570 320,582" fill="#c80000"/>
<polygon points="495,105 515,88 532,108 512,128" fill="#ff0000"/>
</g></g>
<g clip-path="url(#c24)"><g transform="translate(500,440) scale(0.16216,0.16216)">
<rect x="-5" y="-5" width="750" height="565" fill="#c80000"/>
<polygon points="330,0 740,0 740,555 420,555 400,500 360,440 330,400 310,350 300,300 305,250 310,200 315,150 320,100 325,50" fill="#ff0000"/>
<polygon points="470,0 740,0 740,555 470,555 460,500 450,450 440,400 430,350 430,300 440,260 460,230 480,190 490,150 490,100 480,60 470,30" fill="#ff5f00"/>
<polygon points="490,0 740,0 740,555 490,555 480,500 470,450 465,400 460,350 470,300 490,260 500,220 510,180 510,140 505,100 500,60 495,30" fill="#f0822d"/>
<polygon points="510,0 740,0 740,555 520,555 515,500 500,460 490,410 490,360 500,310 515,270 525,230 525,180 525,130 520,80 515,40" fill="#f5f05a"/>
<polygon points="540,0 740,0 740,555 545,555 550,500 540,450 520,400 515,350 530,300 545,260 550,220 545,170 550,120 555,80 550,30" fill="#e5f5a8"/>
<polygon points="580,40 620,20 680,20 720,40 730,100 700,100 680,130 650,160 620,170 600,150 590,100" fill="#a0e632"/>
<polygon points="590,230 620,210 660,220 700,200 740,200 740,555 640,555 620,520 600,480 570,420 550,380 540,340 550,300 570,260" fill="#a0e632"/>
<polygon points="680,420 720,400 740,410 740,520 700,510 680,470" fill="#00dc00"/>
<polygon points="700,0 740,0 740,60 720,40" fill="#00dc00"/>
<polygon points="0,380 30,410 80,460 120,500 150,540 155,555 0,555" fill="#f0822d"/>
<polygon points="0,420 40,450 80,490 110,520 130,555 0,555" fill="#e6af2d"/>
<polygon points="0,440 30,470 60,500 90,530 100,555 0,555" fill="#e6dc32"/>
</g></g>
<g clip-path="url(#c25)"><g transform="translate(120,70) scale(0.10811,0.10811)">
<rect x="-5" y="-5" width="750" height="565" fill="#f5f05a"/>
<polygon points="480,555 500,540 560,500 600,480 680,455 740,445 740,555" fill="#e6dc32"/>
<polygon points="0,0 740,0 740,100 700,110 640,130 580,160 540,230 500,260 430,300 350,320 250,320 150,345 50,400 0,440" fill="#e5f5a8"/>
<polygon points="0,0 740,0 740,55 700,60 640,90 560,120 520,160 480,220 420,270 360,280 300,250 260,210 210,190 150,210 130,320 40,380 0,410" fill="#a0e632"/>
<polygon points="0,0 620,0 610,20 560,80 500,140 450,180 400,230 380,210 385,130 370,110 270,110 200,140 140,175 80,230 0,255" fill="#00dc00"/>
<polygon points="0,0 150,0 130,20 80,60 75,120 60,170 0,180" fill="#00b400"/>
</g></g>
<g clip-path="url(#c26)"><g transform="translate(270,140) scale(0.10309,0.10309)">
<rect x="-5" y="-5" width="592" height="592" fill="#ff0000"/>
<polygon points="0,0 582,0 582,582 420,582 400,490 380,430 350,380 320,330 280,280 240,230 200,190 160,150 110,125 50,115 0,130" fill="#e6dc32"/>
<polygon points="0,0 582,0 582,582 450,582 440,510 420,450 400,390 370,340 340,290 300,240 260,195 220,155 170,120 120,95 60,85 0,100" fill="#f5f05a"/>
<polygon points="0,0 582,0 582,582 470,582 460,480 440,420 420,360 390,310 360,260 320,210 280,170 230,130 180,95 120,65 60,55 0,70" fill="#e5f5a8"/>
<polygon points="0,0 582,0 582,582 500,582 490,520 480,460 460,400 440,340 410,290 380,240 340,190 290,150 240,110 180,70 120,40 60,30 0,40" fill="#a0e632"/>
<polygon points="100,0 582,0 582,582 530,582 520,500 510,450 490,390 460,330 430,280 400,230 360,180 310,140 260,100 200,60 130,30" fill="#00dc00"/>
<polygon points="530,0 582,0 582,80 550,60" fill="#a0e632"/>
<polygon points="400,170 430,155 470,170 480,190 440,200 405,190" fill="#00b400"/>
<polygon points="0,205 20,160 60,135 110,140 160,168 200,205 240,235 280,262 330,282 370,305 395,345 400,400 392,470 388,530 385,582 300,582 280,520 240,470 160,430 120,420 100,350 80,300 50,250 30,240 0,300" fill="#ff5f00"/>
<polygon points="0,300 30,245 50,255 45,300 60,380 75,460 90,540 95,582 0,582" fill="#ff0000"/>
<polygon points="110,380 160,400 230,430 270,470 290,530 300,582 130,582 115,480" fill="#ff0000"/>
<polygon points="120,320 160,260 200,220 240,250 280,300 320,330 350,330 350,370 320,410 280,420 230,400 180,380 130,350" fill="#ff5f00"/>
<polygon points="150,320 190,260 230,270 270,320 300,360 270,395 220,385 170,360" fill="#e6dc32"/>
<polygon points="190,290 230,290 260,340 240,370 200,350" fill="#f5f05a"/>
</g></g>
<g clip-path="url(#c27)"><g transform="translate(200,410) scale(0.16216,0.16216)">
<rect x="-5" y="-5" width="750" height="565" fill="#e6af2d"/>
<polygon points="60,0 740,0 740,470 700,460 640,450 580,440 540,420 520,380 540,350 560,320 560,290 520,270 450,240 400,200 360,160 330,120 280,95 200,75 100,55 60,40" fill="#e6dc32"/>
<polygon points="100,0 740,0 740,420 700,410 660,380 620,340 580,300 560,270 500,240 440,210 400,160 370,120 330,90 280,70 220,50 150,30" fill="#f5f05a"/>
<polygon points="150,0 740,0 740,300 700,280 660,250 620,230 580,220 540,200 500,180 460,140 420,100 370,80 300,70 220,45 180,20" fill="#e5f5a8"/>
<polygon points="650,0 740,0 740,200 700,150 680,80" fill="#f5f05a"/>
<polygon points="180,0 500,0 490,40 480,80 420,70 350,60 300,50 220,30" fill="#a0e632"/>
<polygon points="240,0 470,0 470,30 420,40 350,40 290,40 250,20" fill="#00dc00"/>
<polygon points="260,10 300,5 320,20 290,30" fill="#00b400"/>
<polygon points="490,170 520,165 555,200 530,205" fill="#a0e632"/>
<polygon points="0,45 40,65 100,88 200,92 270,115 315,160 340,210 355,260 375,300 395,340 415,380 425,420 420,460 420,555 0,555" fill="#f0822d"/>
<polygon points="0,150 50,160 100,180 150,190 200,200 250,215 290,250 320,300 340,350 350,400 360,440 360,555 0,555" fill="#ff5f00"/>
<polygon points="240,200 270,180 300,205 275,230" fill="#ff5f00"/>
<polygon points="0,240 40,245 80,250 130,260 180,265 240,270 270,285 300,315 325,350 335,400 345,440 370,455 420,465 460,475 500,485 530,510 540,555 0,555" fill="#ff0000"/>
<polygon points="0,285 40,270 80,265 130,275 180,280 240,285 270,300 300,330 330,360 340,400 350,440 380,460 420,470 460,480 500,490 520,510 530,555 0,555" fill="#c80000"/>
<polygon points="0,300 40,285 80,280 130,290 180,295 230,300 260,320 290,350 310,380 330,420 340,460 380,480 420,490 460,500 490,520 500,555 0,555" fill="#960000"/>
</g></g>
<g clip-path="url(#c28)"><g transform="translate(520,330) scale(0.08108,0.08108)">
<rect x="-5" y="-5" width="750" height="565" fill="#00dc00"/>
<polygon points="180,40 560,20 570,200 540,250 470,260 470,150 420,140 380,160 390,250 380,330 300,340 230,320 180,250 200,150" fill="#00b400"/>
<polygon points="210,0 470,0 470,30 400,50 330,60 280,90 230,90 210,50" fill="#008200"/>
<polygon points="550,60 620,40 740,60 740,230 650,240 600,220 570,180" fill="#008200"/>
<polygon points="620,0 740,0 740,20 700,40 680,80 660,140 640,140 625,70" fill="#2040ff"/>
<polygon points="440,300 500,265 560,250 640,260 700,280 740,300 740,555 450,555 440,500 470,470 470,400 450,340" fill="#a0e632"/>
<polygon points="480,320 520,295 560,290 620,310 680,340 740,360 740,555 480,555 490,500 500,440 490,380" fill="#e5f5a8"/>
<polygon points="0,150 60,150 60,330 0,330" fill="#a0e632"/>
<polygon points="60,340 150,340 240,345 300,360 340,400 380,440 400,480 420,555 0,555 0,330" fill="#a0e632"/>
<polygon points="80,370 200,370 280,380 320,420 350,470 370,520 380,555 0,555 0,360" fill="#e5f5a8"/>
<polygon points="60,390 180,400 250,420 290,460 320,500 340,555 0,555 0,380" fill="#f5f05a"/>
<polygon points="0,380 60,420 120,440 200,450 260,480 290,520 300,555 0,555" fill="#e6af2d"/>
<polygon points="0,430 40,450 80,480 120,500 160,520 200,540 210,555 0,555" fill="#ff5f00"/>
<polygon points="0,470 40,490 80,510 120,530 140,555 0,555" fill="#ff0000"/>
</g></g>
<line x1="136.5" y1="55.3" x2="136.5" y2="529" stroke="#646478" stroke-width="1" stroke-dasharray="2,4.1"/>
<line x1="196.5" y1="55.3" x2="196.5" y2="529" stroke="#646478" stroke-width="1" stroke-dasharray="2,4.1"/>
<line x1="256.5" y1="55.3" x2="256.5" y2="529" stroke="#646478" stroke-width="1" stroke-dasharray="2,4.1"/>
<line x1="317.5" y1="55.3" x2="317.5" y2="529" stroke="#646478" stroke-width="1" stroke-dasharray="2,4.1"/>
<line x1="377.5" y1="55.3" x2="377.5" y2="529" stroke="#646478" stroke-width="1" stroke-dasharray="2,4.1"/>
<line x1="437.5" y1="55.3" x2="437.5" y2="529" stroke="#646478" stroke-width="1" stroke-dasharray="2,4.1"/>
<line x1="498.5" y1="55.3" x2="498.5" y2="529" stroke="#646478" stroke-width="1" stroke-dasharray="2,4.1"/>
<line x1="558.5" y1="55.3" x2="558.5" y2="529" stroke="#646478" stroke-width="1" stroke-dasharray="2,4.1"/>
<line x1="121" y1="475.5" x2="618" y2="475.5" stroke="#646478" stroke-width="1" stroke-dasharray="1,5.06"/>
<line x1="121" y1="401.5" x2="618" y2="401.5" stroke="#646478" stroke-width="1" stroke-dasharray="1,5.06"/>
<line x1="121" y1="327.5" x2="618" y2="327.5" stroke="#646478" stroke-width="1" stroke-dasharray="1,5.06"/>
<line x1="121" y1="254.5" x2="618" y2="254.5" stroke="#646478" stroke-width="1" stroke-dasharray="1,5.06"/>
<line x1="121" y1="180.5" x2="618" y2="180.5" stroke="#646478" stroke-width="1" stroke-dasharray="1,5.06"/>
<line x1="121" y1="106.5" x2="618" y2="106.5" stroke="#646478" stroke-width="1" stroke-dasharray="1,5.06"/>
<g fill="none" stroke="#656570" stroke-width="2" stroke-linejoin="round" stroke-linecap="round" shape-rendering="auto">
<polyline points="158,53 170,55.5 182,58 192,60 201,62"/>
<polyline points="385.9,240 392,243.5 400,248.9"/>
<g transform="translate(120,120) scale(0.17182,0.17182)">
<polyline points="582,55 560,30 520,18 480,15 470,50 440,70 400,85 350,110 300,125 270,135 250,140 220,145 185,162 155,200 145,228 160,262 190,300 215,325 250,342 275,355 280,375 262,395 240,405 220,415 200,420 185,435 180,470 175,530 185,582" vector-effect="non-scaling-stroke"/>
<polyline points="195,205 215,180 240,150 265,135 300,115 275,105 250,105" vector-effect="non-scaling-stroke"/>
<polyline points="235,395 245,405 240,425 230,430 225,415 235,395" vector-effect="non-scaling-stroke"/>
</g>
<g transform="translate(200,50) scale(0.17182,0.17182)">
<polyline points="0,70 60,80 130,85 200,95 240,100 330,100 370,115 390,135 450,145 510,145 550,125 582,120" vector-effect="non-scaling-stroke"/>
<polyline points="240,100 230,110 225,125 200,135 150,150 120,180 110,200 120,215 150,225 175,235 200,240 210,255 190,270 160,290 150,320 175,330 195,335 190,360 185,385 180,405 190,415" vector-effect="non-scaling-stroke"/>
<polyline points="0,440 40,425 100,420 150,425 180,415 205,420 230,430 255,445 275,465 290,490 285,510 260,520 245,500 230,520 195,530 160,540 150,560 160,582" vector-effect="non-scaling-stroke"/>
<polyline points="200,555 250,560 330,545 420,545 480,540 510,500 524,466 554,493 582,521" vector-effect="non-scaling-stroke"/>
</g>
<g transform="translate(300,50) scale(0.17182,0.17182)">
<polyline points="0,120 30,100 50,60 80,50 150,40 250,35 330,20 380,15 420,12" vector-effect="non-scaling-stroke"/>
<polyline points="582,95 545,95 535,130 490,150 470,175 440,195 390,215 350,225 320,235 305,265 320,285 345,300 350,330 345,380 330,395 300,390 260,400 220,420 200,445 220,455 215,480 195,500 190,540 170,570 140,565 100,545 60,540 30,545 0,521" vector-effect="non-scaling-stroke"/>
</g>
<g transform="translate(400,50) scale(0.17192,0.17182)">
<polyline points="0,15 20,60 40,100 60,115" vector-effect="non-scaling-stroke"/>
<polyline points="0,95 50,110 100,130 150,160 175,180 180,200 200,220 240,235 275,250 300,280 310,320 330,340 350,355 400,350 430,360 450,390 470,400 510,415 560,420 620,420 660,430 698,435" vector-effect="non-scaling-stroke"/>
</g>
<g transform="translate(500,90) scale(0.17192,0.17182)">
<polyline points="0,185 60,190 120,205 150,200 200,165 240,135 270,135 320,115 350,95 380,85 395,98 430,100 470,80 500,55 520,30 530,15" vector-effect="non-scaling-stroke"/>
<polyline points="590,25 640,28 700,20" vector-effect="non-scaling-stroke"/>
<polyline points="270,135 300,160 320,180 325,210 320,240 300,265 310,285 340,285 370,300 365,310 340,310 330,330 330,360 350,385 390,400 440,420 480,425 490,435 470,445 440,440 410,430 395,430 380,450 370,480 365,520 350,560 340,582" vector-effect="non-scaling-stroke"/>
<polyline points="0,480 50,475 70,465 130,470 200,480 240,500 260,520 265,550 270,570 300,582" vector-effect="non-scaling-stroke"/>
<polyline points="350,560 400,555 450,565 470,582" vector-effect="non-scaling-stroke"/>
</g>
<g transform="translate(220,140) scale(0.17182,0.17182)">
<polyline points="30,15 45,40 60,80 75,120 95,165 115,205 135,245 155,285 178,325 200,305 212,280 240,258 265,240 280,215 290,180 300,145 305,110 320,82 345,78 385,95 420,120 450,160 480,170 510,180 520,200 525,240 515,280 520,320 540,360 565,400 582,430" vector-effect="non-scaling-stroke"/>
<polyline points="400,125 440,140 470,170 495,205 500,240 470,250 430,240 400,225 375,195 370,165 385,135 400,125" vector-effect="non-scaling-stroke"/>
<polyline points="320,160 330,155 345,175 350,220 355,260 365,300 380,340 395,380 385,400 360,395 340,370 335,330 330,290 330,240 320,200 315,175 320,160" vector-effect="non-scaling-stroke"/>
<polyline points="340,380 345,410 370,430 395,455" vector-effect="non-scaling-stroke"/>
<polyline points="465,355 500,385 540,410 560,430 582,445" vector-effect="non-scaling-stroke"/>
<polyline points="30,15 60,25 100,35 170,40 260,30 330,20 370,5 380,0" vector-effect="non-scaling-stroke"/>
<polyline points="450,0 480,20 530,15 582,10" vector-effect="non-scaling-stroke"/>
</g>
<g transform="translate(300,140) scale(0.17182,0.17182)">
<polyline points="0,15 40,20 80,10 120,25 160,45 190,30 200,0" vector-effect="non-scaling-stroke"/>
<polyline points="582,190 560,220 530,230 500,200 470,165 440,140 400,135 375,150 365,190 360,240 355,300 370,330 400,350 430,360 450,390 470,420 490,450 510,480 515,520 505,560 500,582" vector-effect="non-scaling-stroke"/>
<polyline points="0,175 30,180 50,200 60,240 55,290 50,330 60,360 90,400 120,430 150,460 190,500 230,530 270,545 290,560" vector-effect="non-scaling-stroke"/>
<polyline points="0,360 40,380 80,420 110,450 150,490 180,520 220,545 250,560" vector-effect="non-scaling-stroke"/>
<polyline points="0,400 30,420 70,460 100,490 130,530 150,560 160,582" vector-effect="non-scaling-stroke"/>
</g>
<g transform="translate(400,140) scale(0.17192,0.17182)">
<polyline points="0,190 20,160 50,130 90,135 130,145 160,140 185,115 200,120 230,135 260,150 290,165 320,155 350,165 380,175 410,185 440,180 470,185 500,200 520,210 550,195 580,185 610,195 640,195 660,175 698,180" vector-effect="non-scaling-stroke"/>
</g>
<g transform="translate(500,180) scale(0.17192,0.17182)">
<polyline points="260,0 255,30 280,55 320,65 350,50 370,35 420,35 460,40 470,60 465,100 450,140 420,170 390,195 380,230 375,270 390,300 430,320 470,340 500,370 530,390 555,410 540,430 510,445 470,440 440,430 425,425 430,445 450,470 480,490 510,520 515,550 515,582" vector-effect="non-scaling-stroke"/>
<polyline points="375,0 355,25 345,45" vector-effect="non-scaling-stroke"/>
</g>
<g transform="translate(120,215) scale(0.17182,0.17182)">
<polyline points="185,0 195,30 205,70 215,110 230,140 260,165 290,190 320,215 345,235 380,240 410,260 440,290 470,310 500,330 530,350 560,370 582,380" vector-effect="non-scaling-stroke"/>
<polyline points="245,235 262,230 270,245 255,265 235,258 245,235" vector-effect="non-scaling-stroke"/>
</g>
<g transform="translate(210,230) scale(0.17182,0.17182)">
<polyline points="0,250 30,270 60,290 100,300 130,320 150,360 170,400 190,440 205,480 215,520 220,550 225,582" vector-effect="non-scaling-stroke"/>
</g>
<g transform="translate(300,230) scale(0.17182,0.17182)">
<polyline points="130,0 150,40 170,80 200,110 230,140 260,170 290,190 320,210 350,235 380,245 410,260 430,280 435,300 420,320 430,340 460,355 500,355 520,340 540,330 570,330 582,340" vector-effect="non-scaling-stroke"/>
<polyline points="45,65 80,100 110,130 130,145 150,170 170,185 175,175 150,155" vector-effect="non-scaling-stroke"/>
<polyline points="470,535 500,525 530,530 540,545 510,560 480,560 465,545 470,535" vector-effect="non-scaling-stroke"/>
<polyline points="140,5 160,12 200,12 240,15 270,25" vector-effect="non-scaling-stroke"/>
</g>
<g transform="translate(400,230) scale(0.17182,0.17182)">
<polyline points="0,110 40,125 70,140 100,175 130,210 160,250 190,290 220,320 250,340 290,350 310,370 315,400 320,430 340,460 370,490 400,510 430,530 450,555 455,582" vector-effect="non-scaling-stroke"/>
<polyline points="10,400 40,400 80,410 130,420 170,430 180,445 150,450 100,445 50,440 20,430 10,410 10,400" vector-effect="non-scaling-stroke"/>
<polyline points="20,480 60,490 120,500 180,505 240,510 260,515 250,525 200,525 140,520 80,515 30,500 20,490 20,480" vector-effect="non-scaling-stroke"/>
<polyline points="90,575 150,565 220,560 260,555 300,565 320,582" vector-effect="non-scaling-stroke"/>
</g>
<g transform="translate(500,270) scale(0.17192,0.17182)">
<polyline points="510,0 515,30 510,70 480,90 440,100 400,100 360,95 335,95 320,115 330,140 350,160 360,190 355,220 340,230 320,210 310,185 290,180 260,190 240,210 220,240 215,280 215,310 180,320 160,330 150,350 150,400 160,430 180,450 190,470 180,490 160,510 150,540 160,570 160,582" vector-effect="non-scaling-stroke"/>
<polyline points="420,110 440,130 470,160 500,180 520,200 540,220 570,250 610,270 650,280 680,290 698,300" vector-effect="non-scaling-stroke"/>
<polyline points="510,582 530,560 550,530 570,500 590,480 610,480 640,510 670,530 698,520" vector-effect="non-scaling-stroke"/>
<polyline points="0,440 40,460 80,480 110,500 150,520 160,530" vector-effect="non-scaling-stroke"/>
<polyline points="0,480 30,500 60,520 100,540 140,560 160,575 190,570 230,575 260,570" vector-effect="non-scaling-stroke"/>
</g>
<g transform="translate(120,310) scale(0.17182,0.17182)">
<polyline points="0,470 20,500 50,515 80,530 110,550 140,570 160,582" vector-effect="non-scaling-stroke"/>
</g>
<g transform="translate(210,320) scale(0.17182,0.17182)">
<polyline points="210,0 225,50 245,100 265,150 290,200 320,240 350,270 380,300 410,330 440,360 470,380 500,390 520,400 530,430 560,450 582,465" vector-effect="non-scaling-stroke"/>
</g>
<g transform="translate(300,320) scale(0.17182,0.17182)">
<polyline points="0,400 20,430 50,455 80,470 110,485 150,500 200,505 250,510 300,505 350,510 400,505 440,495 480,495 500,505 515,530 520,560 515,582" vector-effect="non-scaling-stroke"/>
<polyline points="460,15 480,5 520,5 540,20 520,35 490,40 465,35 460,15" vector-effect="non-scaling-stroke"/>
</g>
<g transform="translate(400,320) scale(0.17182,0.17182)">
<polyline points="85,45 100,40 150,45 200,40 240,30 270,35 285,60 265,75 220,80 170,85 130,85 100,75 85,60 85,45" vector-effect="non-scaling-stroke"/>
<polyline points="230,20 280,30 320,45 360,60 400,75 440,90 480,100 520,110 560,130 582,150" vector-effect="non-scaling-stroke"/>
<polyline points="340,0 370,20 400,50 430,60 460,80 500,85 530,100" vector-effect="non-scaling-stroke"/>
<polyline points="420,0 440,10 450,30 440,50 420,60" vector-effect="non-scaling-stroke"/>
<polyline points="330,130 340,125 380,135 420,145 460,155 480,165 475,175 440,170 400,160 360,150 335,145 330,130" vector-effect="non-scaling-stroke"/>
</g>
<g transform="translate(500,360) scale(0.17192,0.17182)">
<polyline points="70,0 100,20 140,40 160,60 190,70 220,80 260,100 300,120 320,140 340,170 370,200 380,230 390,260 420,275 450,290 480,300 510,305 540,320 545,360 540,400 520,430 500,470 495,510 500,540 510,560 515,582" vector-effect="non-scaling-stroke"/>
<polyline points="150,40 180,40 210,40 230,45 240,60 220,70 200,75 180,65 165,50" vector-effect="non-scaling-stroke"/>
<polyline points="550,0 520,40 490,80 460,120 440,160 460,180 470,210 460,240 460,270 465,295" vector-effect="non-scaling-stroke"/>
<polyline points="600,0 600,20 620,30 660,25 698,10" vector-effect="non-scaling-stroke"/>
<polyline points="150,0 150,40" vector-effect="non-scaling-stroke"/>
</g>
<g transform="translate(120,400) scale(0.13514,0.13514)">
<polyline points="100,0 130,20 160,50 190,80 210,110 230,140 260,170 290,200 320,230 350,260 380,290 410,305 450,320 490,335 530,355 555,375 565,400 570,415 600,420 640,400 680,390 720,395 740,405" vector-effect="non-scaling-stroke"/>
</g>
<g transform="translate(210,410) scale(0.20619,0.20619)">
<polyline points="0,205 40,210 80,215 120,225 160,245 190,265 215,290 230,330 240,360 260,375 300,380 330,395 350,420 345,440 380,445 420,440 450,430 485,430" vector-effect="non-scaling-stroke"/>
</g>
<g transform="translate(300,410) scale(0.20599,0.20619)">
<polyline points="430,0 420,30 390,60 350,90 340,120 360,150 400,170 440,190 480,210 520,225 534,235" vector-effect="non-scaling-stroke"/>
<polyline points="0,430 30,440 60,480 80,520 70,560 60,582" vector-effect="non-scaling-stroke"/>
</g>
<g transform="translate(400,410) scale(0.20599,0.20619)">
<polyline points="0,210 40,230 80,250 120,265 160,280 200,290 240,310 270,330 300,360 330,380 370,400 410,420 450,430 475,440 480,470 500,490 520,510 534,520" vector-effect="non-scaling-stroke"/>
<polyline points="110,582 130,540 160,510 190,490 220,485 250,495 270,500 240,510 250,525 280,540 300,555 330,570 350,582" vector-effect="non-scaling-stroke"/>
</g>
<g transform="translate(500,440) scale(0.16216,0.16216)">
<polyline points="525,0 530,40 530,70 545,80 545,120 535,160 530,200 545,220 555,250 530,270 510,290 500,320 490,350 480,380 500,400 520,410 535,430 540,470 540,500 530,515 510,510 490,490 470,470 480,500 500,530 510,555" vector-effect="non-scaling-stroke"/>
<polyline points="0,400 30,430 60,460 90,490 120,520 150,550" vector-effect="non-scaling-stroke"/>
</g>
</g>
</g>
<rect x="516.5" y="51" width="102" height="41.5" fill="#fff" stroke="#000" stroke-width="1"/>
<rect x="121" y="465.5" width="134.5" height="64" fill="#fff" stroke="#000" stroke-width="1"/>
<rect x="120" y="51" width="499" height="479" fill="none" stroke="#000" stroke-width="2"/>
<line x1="136.5" y1="531" x2="136.5" y2="534" stroke="#000" stroke-width="1"/>
<line x1="196.5" y1="531" x2="196.5" y2="534" stroke="#000" stroke-width="1"/>
<line x1="256.5" y1="531" x2="256.5" y2="534" stroke="#000" stroke-width="1"/>
<line x1="317.5" y1="531" x2="317.5" y2="534" stroke="#000" stroke-width="1"/>
<line x1="377.5" y1="531" x2="377.5" y2="534" stroke="#000" stroke-width="1"/>
<line x1="437.5" y1="531" x2="437.5" y2="534" stroke="#000" stroke-width="1"/>
<line x1="498.5" y1="531" x2="498.5" y2="534" stroke="#000" stroke-width="1"/>
<line x1="558.5" y1="531" x2="558.5" y2="534" stroke="#000" stroke-width="1"/>
<line x1="618.5" y1="531" x2="618.5" y2="534" stroke="#000" stroke-width="1"/>
<line x1="116" y1="475.5" x2="119" y2="475.5" stroke="#000" stroke-width="1"/>
<line x1="116" y1="401.5" x2="119" y2="401.5" stroke="#000" stroke-width="1"/>
<line x1="116" y1="327.5" x2="119" y2="327.5" stroke="#000" stroke-width="1"/>
<line x1="116" y1="254.5" x2="119" y2="254.5" stroke="#000" stroke-width="1"/>
<line x1="116" y1="180.5" x2="119" y2="180.5" stroke="#000" stroke-width="1"/>
<line x1="116" y1="106.5" x2="119" y2="106.5" stroke="#000" stroke-width="1"/>
<rect x="652" y="77.00" width="15" height="18.64" fill="#fff0e1"/>
<rect x="652" y="95.63" width="15" height="18.64" fill="#d8bfd8"/>
<rect x="652" y="114.26" width="15" height="18.64" fill="#dda0dd"/>
<rect x="652" y="132.89" width="15" height="18.64" fill="#ba55d3"/>
<rect x="652" y="151.52" width="15" height="18.64" fill="#8b008b"/>
<rect x="652" y="170.15" width="15" height="18.64" fill="#960000"/>
<rect x="652" y="188.78" width="15" height="18.64" fill="#c80000"/>
<rect x="652" y="207.41" width="15" height="18.64" fill="#ff0000"/>
<rect x="652" y="226.04" width="15" height="18.64" fill="#ff5f00"/>
<rect x="652" y="244.67" width="15" height="18.64" fill="#f0822d"/>
<rect x="652" y="263.30" width="15" height="18.64" fill="#e6af2d"/>
<rect x="652" y="281.93" width="15" height="18.64" fill="#e6dc32"/>
<rect x="652" y="300.56" width="15" height="18.64" fill="#f5f05a"/>
<rect x="652" y="319.19" width="15" height="18.64" fill="#e5f5a8"/>
<rect x="652" y="337.82" width="15" height="18.64" fill="#a0e632"/>
<rect x="652" y="356.45" width="15" height="18.64" fill="#00dc00"/>
<rect x="652" y="375.08" width="15" height="18.64" fill="#00b400"/>
<rect x="652" y="393.71" width="15" height="18.64" fill="#008200"/>
<rect x="652" y="412.34" width="15" height="18.64" fill="#2040ff"/>
<rect x="652" y="430.97" width="15" height="18.64" fill="#00a0e6"/>
<rect x="652" y="449.60" width="15" height="18.64" fill="#b0dce6"/>
<rect x="652" y="468.23" width="15" height="18.64" fill="#f0ffff"/>
<rect x="652" y="486.86" width="15" height="18.64" fill="#ffffff"/>
</svg>
<div class="t" id="title" style="left:170px;top:27px;font-size:15px;letter-spacing:1.82px;">Temperatura zraka na 2m u 00 UTC 18OCT2011</div>
<div class="t lat" style="right:624px;top:469.9px;font-size:12px;transform:scaleX(0.88);transform-origin:right center;">41N</div>
<div class="t lat" style="right:624px;top:396.3px;font-size:12px;transform:scaleX(0.88);transform-origin:right center;">42N</div>
<div class="t lat" style="right:624px;top:322.7px;font-size:12px;transform:scaleX(0.88);transform-origin:right center;">43N</div>
<div class="t lat" style="right:624px;top:249.1px;font-size:12px;transform:scaleX(0.88);transform-origin:right center;">44N</div>
<div class="t lat" style="right:624px;top:175.5px;font-size:12px;transform:scaleX(0.88);transform-origin:right center;">45N</div>
<div class="t lat" style="right:624px;top:101.9px;font-size:12px;transform:scaleX(0.88);transform-origin:right center;">46N</div>
<div class="t lon" style="left:126.3px;top:535px;font-size:12px;width:20px;text-align:center;transform:scaleX(0.85);">12E</div>
<div class="t lon" style="left:186.5px;top:535px;font-size:12px;width:20px;text-align:center;transform:scaleX(0.85);">13E</div>
<div class="t lon" style="left:246.7px;top:535px;font-size:12px;width:20px;text-align:center;transform:scaleX(0.85);">14E</div>
<div class="t lon" style="left:306.9px;top:535px;font-size:12px;width:20px;text-align:center;transform:scaleX(0.85);">15E</div>
<div class="t lon" style="left:367.1px;top:535px;font-size:12px;width:20px;text-align:center;transform:scaleX(0.85);">16E</div>
<div class="t lon" style="left:427.3px;top:535px;font-size:12px;width:20px;text-align:center;transform:scaleX(0.85);">17E</div>
<div class="t lon" style="left:487.5px;top:535px;font-size:12px;width:20px;text-align:center;transform:scaleX(0.85);">18E</div>
<div class="t lon" style="left:547.7px;top:535px;font-size:12px;width:20px;text-align:center;transform:scaleX(0.85);">19E</div>
<div class="t lon" style="left:607.9px;top:535px;font-size:12px;width:20px;text-align:center;transform:scaleX(0.85);">20E</div>
<div class="t cbl" style="left:669px;top:69.7px;font-size:14px;">29</div>
<div class="t cbl" style="left:669px;top:88.3px;font-size:14px;">27</div>
<div class="t cbl" style="left:669px;top:107.0px;font-size:14px;">25</div>
<div class="t cbl" style="left:669px;top:125.6px;font-size:14px;">23</div>
<div class="t cbl" style="left:669px;top:144.2px;font-size:14px;">21</div>
<div class="t cbl" style="left:669px;top:162.8px;font-size:14px;">19</div>
<div class="t cbl" style="left:669px;top:181.5px;font-size:14px;">17</div>
<div class="t cbl" style="left:669px;top:200.1px;font-size:14px;">15</div>
<div class="t cbl" style="left:669px;top:218.7px;font-size:14px;">13</div>
<div class="t cbl" style="left:669px;top:237.4px;font-size:14px;">11</div>
<div class="t cbl" style="left:669px;top:256.0px;font-size:14px;">9</div>
<div class="t cbl" style="left:669px;top:274.6px;font-size:14px;">7</div>
<div class="t cbl" style="left:669px;top:293.3px;font-size:14px;">5</div>
<div class="t cbl" style="left:669px;top:311.9px;font-size:14px;">3</div>
<div class="t cbl" style="left:669px;top:330.5px;font-size:14px;">1</div>
<div class="t cbl" style="left:671px;top:349.1px;font-size:14px;letter-spacing:1.2px;">−1</div>
<div class="t cbl" style="left:671px;top:367.8px;font-size:14px;letter-spacing:1.2px;">−3</div>
<div class="t cbl" style="left:671px;top:386.4px;font-size:14px;letter-spacing:1.2px;">−5</div>
<div class="t cbl" style="left:671px;top:405.0px;font-size:14px;letter-spacing:1.2px;">−7</div>
<div class="t cbl" style="left:671px;top:423.7px;font-size:14px;letter-spacing:1.2px;">−9</div>
<div class="t cbl" style="left:671px;top:442.3px;font-size:14px;letter-spacing:1.2px;">−11</div>
<div class="t cbl" style="left:671px;top:460.9px;font-size:14px;letter-spacing:1.2px;">−13</div>
<div class="t cbl" style="left:671px;top:479.6px;font-size:14px;letter-spacing:1.2px;">−15</div>
<div class="t cbl" style="left:671px;top:498.2px;font-size:14px;letter-spacing:1.2px;">−17</div>
<div class="t" style="left:663px;top:520px;font-size:12px;letter-spacing:0.5px;">(st. C)</div>
<div class="t" style="left:529px;top:63px;font-size:21.5px;color:#1e3cff;">©</div>
<div class="t" style="left:547px;top:61px;font-size:21px;color:#1e3cff;letter-spacing:-0.3px;">DHMZ</div>
<div class="t lg" style="right:490px;top:475.0px;font-size:10px;letter-spacing:1px;">Temperatura zraka</div>
<div class="t lg" style="right:490px;top:488.5px;font-size:10px;letter-spacing:1px;">na 2m (st. C)</div>
<div class="t lg" style="right:490px;top:502.0px;font-size:10px;letter-spacing:1px;">start 00z15oct2011</div>
<div class="t lg" style="right:490px;top:515.5px;font-size:10px;letter-spacing:1px;">termin 00Z18OCT2011</div>
</body></html>
